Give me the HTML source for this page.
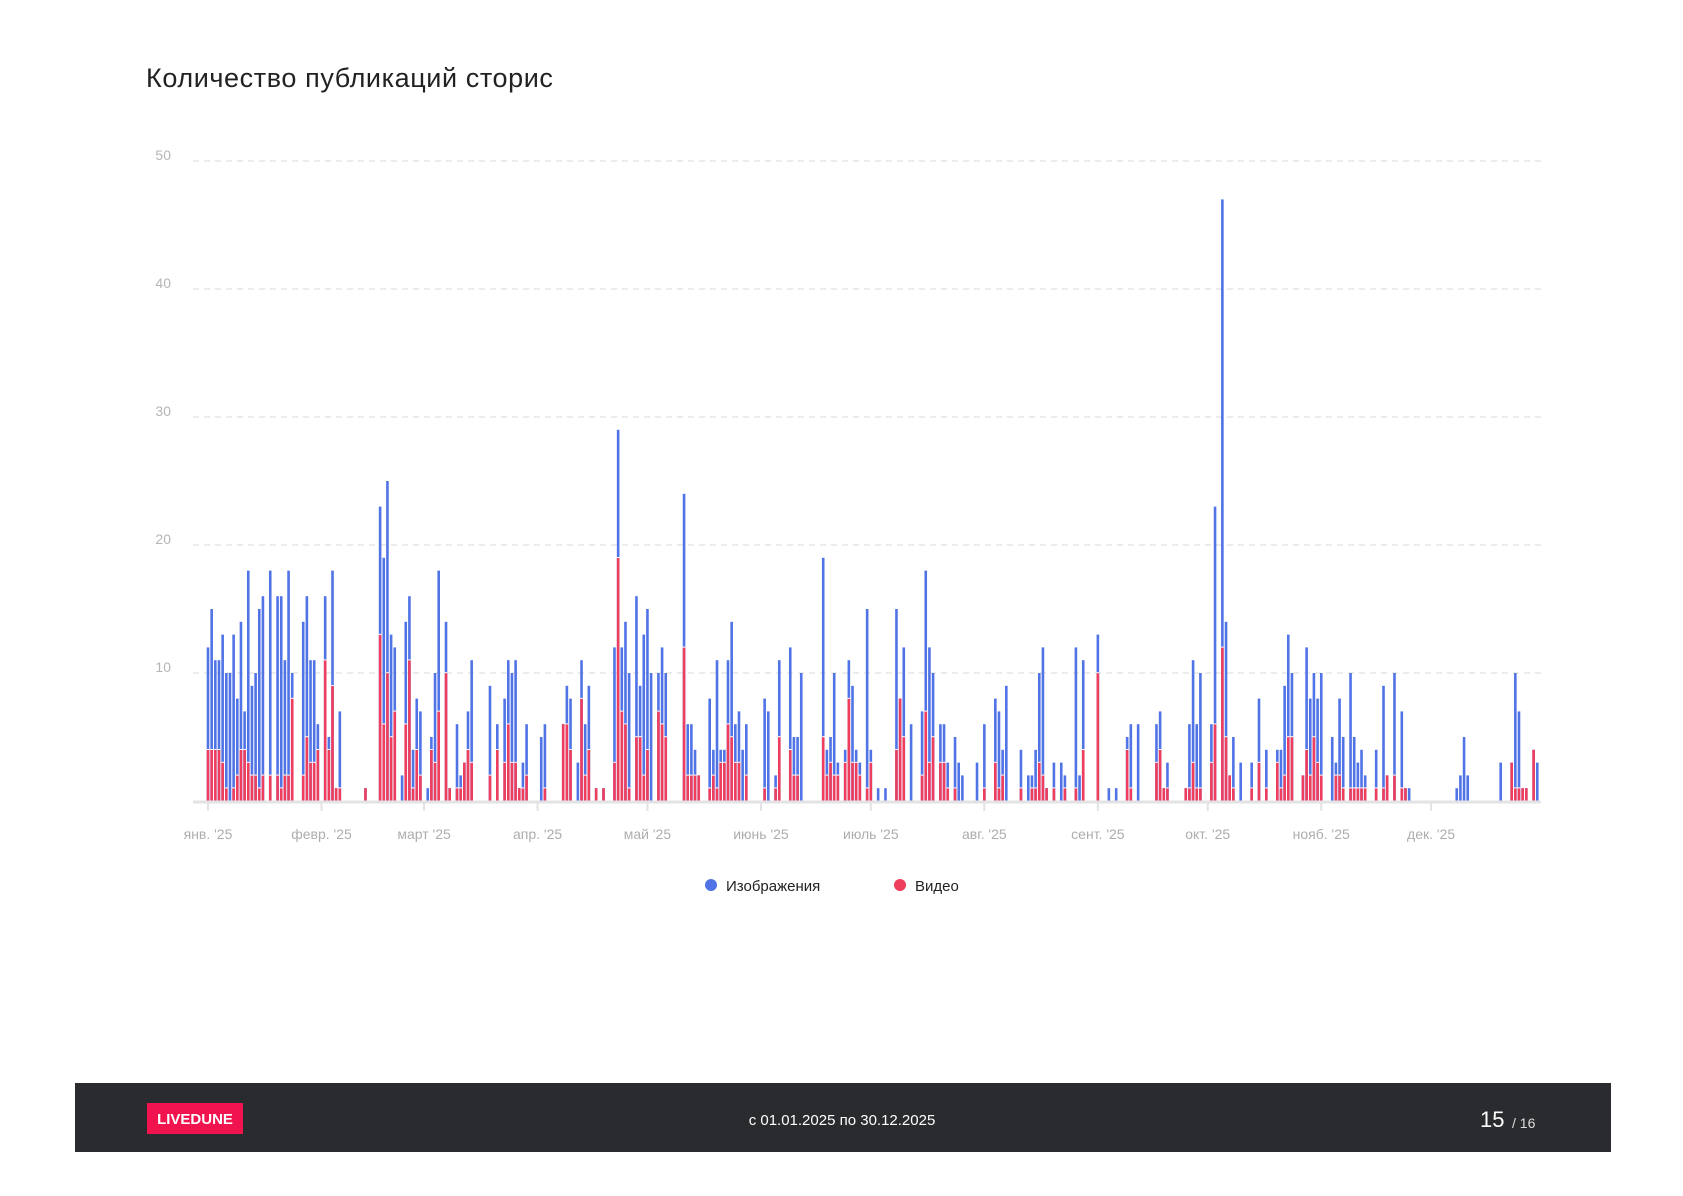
<!DOCTYPE html>
<html><head><meta charset="utf-8">
<style>
body{margin:0;background:#fff;width:1683px;height:1191px;overflow:hidden;font-family:"Liberation Sans","Noto Sans CJK SC",sans-serif;}
svg text{font-family:"Liberation Sans","Noto Sans CJK SC",sans-serif;}
</style></head>
<body>
<svg id="chart" width="1683" height="1191">
<text x="146" y="87" font-size="27" letter-spacing="0.6" fill="#222">Количество публикаций сторис</text>
<g id="grid"></g><g id="bars"></g><g id="axis"></g>
<g>
<g><circle cx="711" cy="885" r="6" fill="#5073e6"/><text x="726" y="891" font-size="15" fill="#222">Изображения</text></g>
<g><circle cx="900" cy="885" r="6" fill="#ee3d5d"/><text x="915" y="891" font-size="15" fill="#222">Видео</text></g>
</g>
<rect x="75" y="1083" width="1536" height="69" fill="#2a2b2f"/>
<rect x="147" y="1103" width="96" height="31" fill="#f0134d"/>
<text x="195" y="1124" font-size="15" font-weight="bold" fill="#fff" text-anchor="middle">LIVEDUNE</text>
<text x="842" y="1125" font-size="15" fill="#fff" text-anchor="middle">с 01.01.2025 по 30.12.2025</text>
<text x="1480" y="1127" font-size="22" fill="#fff">15</text>
<text x="1512" y="1128" font-size="14" fill="#ddd">/ 16</text>
</svg>
<script>
const images = [12,15,11,11,13,10,10,13,8,14,7,18,9,10,15,16,0,18,0,16,16,11,18,10,0,0,14,16,11,11,6,
0,16,5,18,1,7,0,0,0,0,0,0,1,0,0,0,23,19,25,13,12,0,2,14,16,4,8,7,
0,1,5,10,18,0,14,1,0,6,2,3,7,11,0,0,0,0,9,0,6,0,8,11,10,11,1,3,6,0,0,
0,5,6,0,0,0,0,6,9,8,0,3,11,6,9,0,1,0,1,0,0,12,29,12,14,10,0,16,9,13,
15,10,0,10,12,10,0,0,0,0,24,6,6,4,2,0,0,8,4,11,4,4,11,14,6,7,4,6,0,0,0,
0,8,7,0,2,11,0,0,12,5,5,10,0,0,0,0,0,19,4,5,10,3,0,4,11,9,4,3,0,15,
4,0,1,0,1,0,0,15,8,12,0,6,0,0,7,18,12,10,0,6,6,3,0,5,3,2,0,0,0,3,0,
6,0,0,8,7,4,9,0,0,0,4,0,2,2,4,10,12,1,0,3,0,3,2,0,0,12,2,11,0,0,0,
13,0,0,1,0,1,0,0,5,6,0,6,0,0,0,0,6,7,1,3,0,0,0,0,1,6,11,6,10,0,
0,6,23,0,47,14,2,5,0,3,0,0,3,0,8,0,4,0,0,4,4,9,13,10,0,0,2,12,8,10,8,
10,0,0,5,3,8,5,0,10,5,3,4,2,0,0,4,0,9,2,0,10,0,7,1,1,0,0,0,0,0,
0,0,0,0,0,0,0,1,2,5,2,0,0,0,0,0,0,0,0,3,0,0,3,10,7,1,1,0,4,3];
const video = [4,4,4,4,3,1,0,1,2,4,4,3,2,2,1,2,0,2,0,2,1,2,2,8,0,0,2,5,3,3,4,
0,11,4,9,1,1,0,0,0,0,0,0,1,0,0,0,13,6,10,5,7,0,0,6,11,1,4,2,
0,0,4,3,7,0,10,1,0,1,1,3,4,3,0,0,0,0,2,0,4,0,3,6,3,3,1,1,2,0,0,
0,0,1,0,0,0,0,6,6,4,0,0,8,2,4,0,1,0,1,0,0,3,19,7,6,1,0,5,5,2,
4,0,0,7,6,5,0,0,0,0,12,2,2,2,2,0,0,1,2,1,3,3,6,5,3,3,0,2,0,0,0,
0,1,0,0,1,5,0,0,4,2,2,0,0,0,0,0,0,5,2,3,2,2,0,3,8,3,3,2,0,1,
3,0,0,0,0,0,0,4,8,5,0,0,0,0,2,7,3,5,0,3,3,1,0,1,0,0,0,0,0,0,0,
1,0,0,3,1,2,0,0,0,0,1,0,0,1,1,3,2,1,0,1,0,0,1,0,0,1,0,4,0,0,0,
10,0,0,0,0,0,0,0,4,1,0,0,0,0,0,0,3,4,1,1,0,0,0,0,1,1,3,1,1,0,
0,3,6,0,12,5,2,1,0,0,0,0,1,0,3,0,1,0,0,3,1,2,5,5,0,0,2,4,2,5,3,
2,0,0,0,2,2,1,0,1,1,1,1,1,0,0,1,0,1,2,0,2,0,1,1,0,0,0,0,0,0,
0,0,0,0,0,0,0,0,0,0,0,0,0,0,0,0,0,0,0,0,0,0,3,1,1,1,1,0,4,0];
const yTicks = [10,20,30,40,50];
const monthLabels = ["янв. '25","февр. '25","март '25","апр. '25","май '25","июнь '25","июль '25","авг. '25","сент. '25","окт. '25","нояб. '25","дек. '25"];
const monthStarts = [0,31,59,90,120,151,181,212,243,273,304,334];

const NS="http://www.w3.org/2000/svg";
const x0=208, pxDay=3.662, yBase=801, yUnit=12.8;
const xs=i=>x0+i*pxDay;
const ys=v=>yBase-v*yUnit;
function mk(t,a,p){const e=document.createElementNS(NS,t);for(const k in a)e.setAttribute(k,a[k]);p.appendChild(e);return e;}
const grid=document.getElementById('grid'),bars=document.getElementById('bars'),axis=document.getElementById('axis');
yTicks.forEach(v=>{
  const l=mk('line',{x1:193,x2:1541,y1:ys(v),y2:ys(v),stroke:'#e6e6e6','stroke-dasharray':'6,5','stroke-width':1.5},grid);
  
  
  const t=mk('text',{x:171,y:ys(v)-1,'font-size':14,fill:'#b5b5b5','text-anchor':'end'},grid);
  t.textContent=v;
  
  
});
images.forEach((v,i)=>{
  const r=video[i]||0;
  if(v<=0)return;
  const x=xs(i)-1.3;
  const b=mk('rect',{x:x,y:ys(v),width:2.6,height:v*yUnit,fill:'#5073e6'},bars);
  
  
  if(r>0){
    const rr=mk('rect',{x:x,y:ys(r),width:2.6,height:r*yUnit,fill:'#ee3d5d'},bars);
    
    
    if(r<v){const s=mk('rect',{x:x,y:ys(r)-0.8,width:2.6,height:1,fill:'#fff'},bars);
    
    }
  }
});
const ax=mk('line',{x1:193,x2:1541,y1:yBase+1,y2:yBase+1,stroke:'#e3e3e6','stroke-width':3},axis);


monthStarts.forEach((d,i)=>{
  const tk=mk('line',{x1:xs(d),x2:xs(d),y1:yBase,y2:yBase+10,stroke:'#e3e3e6','stroke-width':2},axis);
  
  
  const t=mk('text',{x:xs(d),y:839,'font-size':14,fill:'#adadad','text-anchor':'middle'},axis);
  t.textContent=monthLabels[i];
  
  
});
</script>
</body></html>
